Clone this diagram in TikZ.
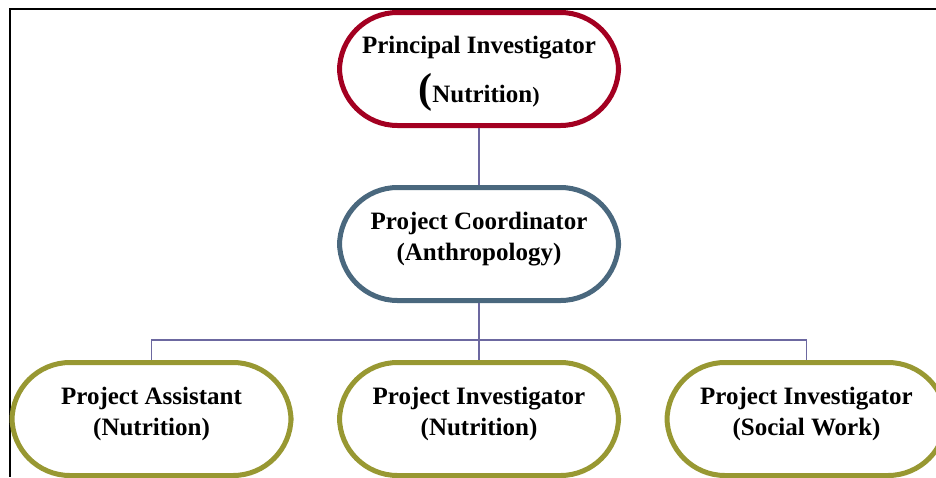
\documentclass[tikz,border=0pt]{standalone}
\usepackage{fontspec}
\setmainfont{Liberation Serif}
\usetikzlibrary{positioning}
\definecolor{pired}{RGB}{163,0,33}
\definecolor{pcblue}{RGB}{74,104,126}
\definecolor{staffolive}{RGB}{152,152,50}
\definecolor{linkviolet}{RGB}{108,104,160}
\tikzset{
  box/.style      = {draw, line width=5pt, fill=white, rounded corners=58pt,
                     minimum width=279pt, minimum height=113pt, align=center,
                     font=\bfseries\fontsize{25}{31}\selectfont, text depth=16pt},
  headbox/.style  = {box, draw=pired},
  coordbox/.style = {box, draw=pcblue},
  staffbox/.style = {box, draw=staffolive},
  link/.style     = {draw=linkviolet, line width=1.6pt},
  frame/.style    = {line width=2pt},
}

\begin{document}
\begin{tikzpicture}[x=1pt,y=-1pt]
  \useasboundingbox (0,0) rectangle (936,477);
  % outer frame
  \draw[frame] (936,9) -- (10,9) -- (10,477);

  % boxes
  \node[headbox, text depth=0pt] (pi) at (479,69)
    {Principal Investigator\\[13pt]{\fontsize{42}{42}\selectfont(}Nutrition{\fontsize{22}{22}\selectfont)}};
  \node[coordbox] (pc) at (479,244) {Project Coordinator\\(Anthropology)};
  \node[staffbox] (pa)  at (151.5,419) {Project Assistant\\(Nutrition)};
  \node[staffbox] (pin) at (479,419)   {Project Investigator\\(Nutrition)};
  \node[staffbox] (psw) at (806.5,419) {Project Investigator\\(Social Work)};

  % links
  \draw[link] (pi) -- (pc);
  \draw[link] (pc.south) -- ++(0,37) coordinate (fork);
  \draw[link] (fork) -| (pa.north);
  \draw[link] (fork) -| (psw.north);
  \draw[link] (fork) -- (pin.north);
\end{tikzpicture}
\end{document}
